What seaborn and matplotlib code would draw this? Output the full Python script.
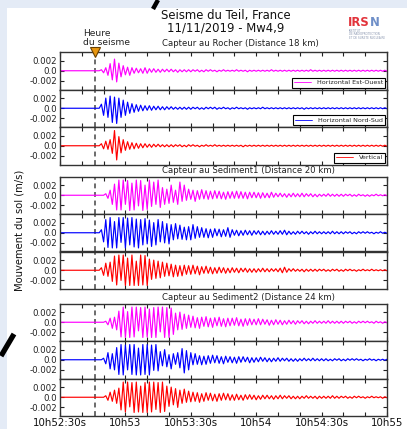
import numpy as np
import pandas as pd
import matplotlib
matplotlib.use("Agg")
import matplotlib.pyplot as plt
import seaborn as sns
from matplotlib.lines import Line2D
from matplotlib.patches import Rectangle

# ------------------------------------------------------------------ data
TITLE_1 = "Seisme du Teil, France"
TITLE_2 = "11/11/2019 - Mw4,9"
STATIONS = ["Capteur au Rocher (Distance 18 km)",
            "Capteur au Sediment1 (Distance 20 km)",
            "Capteur au Sediment2 (Distance 24 km)"]
COMPONENTS = ["Horizontal Est-Ouest", "Horizontal Nord-Sud", "Vertical"]
COLORS = ["#ff00ff", "#0000ff", "#ff0000"]
EVENT_LABEL = "Heure\ndu seisme"
Y_LABEL = "Mouvement du sol (m/s)"
EVENT_T = 16.0                      # s after 10h52:30s
X_TICKS = [0, 30, 60, 90, 120, 150]
X_TICK_LABELS = ["10h52:30s", "10h53", "10h53:30s", "10h54", "10h54:30s", "10h55"]
Y_TICKS = [-0.002, 0.0, 0.002]
Y_TICK_LABELS = ["-0.002", "0.0", "0.002"]
REC_START = 0.0                     # record start (s), ground at rest
FIRST_SAMPLE = 18.0                 # s
SAMPLE_STEP = 1.0                   # s
SCALE = 1e-4                        # m/s per unit

rocher_ew = [0,
             2,-4,6,-9,14,-18,23,-22,15,-12,
             10,-8,7,-9,6,-5,5,-4,4,-5,
             6,-5,4,-3,4,-3,3,-3,3,-2,
             3,-2,3,-2,2,-3,2,-2,2,-2,
             2,-2,2,-1,2,-2,1,-2,2,-1,
             2,-1,1,-2,1,-1,2,-1,1,-1,
             1,-1,2,-1,1,-1,1,-2,1,-1,
             1,-1,1,-1,1,-1,1,-1,2,-1,
             1,-1,1,-1,1,-1,1,-1,1,-1,
             1,-1,1,-1,1,-1,2,-1,1,-1,
             1,-1,1,-1,1,-1,1,-1,1,-1,
             1,-1,1,-1,1,-1,1,-1,1,-1,
             1,-1,1,-1,1,-1,1,-1,1,-1,
             1,-1]
rocher_ns = [0,
             8,-14,20,-18,24,-28,22,-30,20,-18,
             16,-14,12,-10,9,-8,7,-6,6,-5,
             5,-4,5,-4,4,-3,4,-3,3,-3,
             3,-2,3,-2,2,-2,2,-2,2,-2,
             2,-2,2,-1,2,-2,1,-2,2,-1,
             2,-1,2,-2,1,-1,2,-1,1,-2,
             1,-1,2,-1,1,-1,1,-2,1,-1,
             1,-1,1,-1,2,-1,1,-1,1,-1,
             1,-1,1,-1,1,-1,1,-1,1,-1,
             1,-1,1,-2,1,-1,1,-1,1,-1,
             1,-1,1,-1,1,-1,1,-1,1,-1,
             1,-1,1,-1,1,-1,1,-1,1,-1,
             1,-1,1,-1,1,-1,1,-1,1,-1,
             1,-1]
rocher_z = [0,
            4,-6,9,-7,12,-15,30,-28,18,-14,
            12,-9,8,-7,6,-6,5,-5,4,-4,
            4,-3,3,-3,3,-2,3,-2,2,-2,
            2,-2,2,-2,2,-1,2,-2,1,-2,
            2,-1,2,-1,1,-2,1,-1,2,-1,
            1,-1,2,-1,1,-1,1,-1,1,-1,
            1,-1,1,-1,1,-2,1,-1,1,-1,
            1,-1,1,-1,1,-1,1,-1,1,-1,
            1,-1,1,-1,1,-1,1,-1,1,-1,
            1,-1,1,-1,1,-1,1,-1,1,-1,
            1,-1,1,-1,1,-1,1,-1,1,-1,
            1,-1,1,-1,1,-1,1,-1,1,-1,
            1,-1,1,-1,1,-1,1,-1,1,-1,
            1,-1]
sed1_ew = [0,
           0,0,3,-6,10,-18,22,-29,30,-29,
           30,-18,29,-30,24,-29,30,-21,29,-30,
           20,-28,30,-22,26,-18,30,-24,15,-18,
           12,-16,20,-14,10,-18,26,-12,20,-10,
           12,-8,10,-12,9,-8,11,-7,9,-8,
           8,-7,9,-6,8,-7,6,-8,7,-6,
           7,-6,8,-6,7,-6,6,-7,6,-5,
           6,-5,5,-6,5,-5,4,-5,6,-4,
           4,-3,4,-3,3,-4,3,-3,4,-3,
           3,-3,4,-3,3,-2,3,-3,2,-3,
           2,-2,2,-2,3,-2,2,-2,2,-2,
           2,-2,2,-1,2,-2,1,-2,2,-1,
           1,-2,1,-2,1,-1,2,-1,1,-1,
           1,-1]
sed1_ns = [0,
           6,-18,26,-29,30,-30,22,-30,30,-19,
           30,-30,29,-24,30,-28,27,-30,26,-24,
           28,-22,25,-27,20,-24,26,-18,22,-20,
           18,-22,16,-14,18,-12,15,-13,11,-14,
           12,-14,16,-11,12,-9,10,-9,8,-10,
           7,-9,8,-6,7,-8,6,-7,10,-9,
           6,-5,5,-6,4,-5,5,-4,4,-5,
           4,-3,4,-4,3,-4,3,-3,4,-3,
           3,-3,4,-3,5,-4,3,-3,2,-3,
           3,-2,3,-2,2,-3,2,-2,3,-2,
           2,-2,2,-2,2,-2,3,-2,2,-2,
           2,-2,2,-1,2,-2,1,-2,2,-1,
           2,-1,2,-1,1,-2,1,-1,2,-1,
           1,-1]
sed1_z = [0,
          5,-10,14,-12,16,-22,28,-29,30,-20,
          30,-30,24,-30,30,-30,18,-30,30,-29,
          29,-30,22,-18,20,-16,18,-15,16,-12,
          14,-11,12,-13,10,-12,9,-11,10,-8,
          9,-8,10,-7,8,-9,7,-6,8,-6,
          6,-7,5,-6,6,-5,5,-6,4,-5,
          5,-4,4,-5,4,-3,4,-4,3,-4,
          3,-4,3,-3,4,-3,3,-3,3,-2,
          3,-3,4,-5,6,-4,3,-2,3,-2,
          2,-2,2,-3,2,-2,2,-2,2,-2,
          2,-1,2,-2,1,-2,2,-1,2,-2,
          1,-2,2,-1,2,-1,1,-2,1,-1,
          2,-1,1,-1,2,-1,1,-1,1,-1,
          1,-1]
sed2_ew = [0,
           0,0,2,-5,8,-12,10,-15,22,-29,
           30,-30,21,-30,30,-29,30,-17,29,-30,
           30,-29,26,-30,29,-30,30,-19,30,-30,
           29,-30,28,-24,18,-15,20,-14,16,-12,
           14,-10,12,-11,9,-12,10,-8,11,-9,
           8,-10,9,-7,10,-8,7,-9,8,-7,
           8,-6,9,-7,6,-8,7,-6,7,-5,
           6,-5,7,-5,6,-4,5,-6,4,-5,
           5,-4,4,-5,3,-4,4,-3,3,-4,
           3,-2,3,-3,2,-3,2,-2,3,-2,
           2,-2,2,-2,3,-2,2,-2,2,-2,
           2,-2,2,-1,2,-2,1,-2,2,-1,
           2,-1,2,-1,1,-2,2,-1,1,-2,
           1,-1]
sed2_ns = [0,
           0,3,-8,14,-18,12,-20,24,-29,30,
           -30,29,-20,30,-29,30,-30,23,-30,30,
           -29,30,-30,29,-21,30,-22,16,-12,20,
           -14,10,-18,12,-9,14,-16,22,-26,18,
           -20,14,-10,12,-9,8,-10,7,-9,8,
           -7,9,-6,8,-7,6,-8,7,-5,6,
           -6,5,-7,6,-5,6,-4,5,-6,4,
           -5,4,-4,5,-3,4,-4,3,-4,3,
           -3,4,-3,3,-2,3,-3,2,-3,2,
           -3,2,-2,3,-2,2,-2,3,-2,2,
           -2,2,-2,2,-2,1,-2,2,-1,2,
           -2,1,-2,2,-1,2,-1,2,-1,1,
           -2,1,-1,2,-1,1,-2,1,-1,1,
           -1,1]
sed2_z = [0,
          0,0,3,-6,10,-8,14,-12,18,-25,
          30,-29,30,-19,29,-30,30,-29,22,-30,
          29,-30,30,-29,30,-24,29,-30,30,-28,
          22,-18,20,-15,17,-20,14,-12,16,-10,
          12,-9,10,-8,9,-10,7,-8,9,-6,
          8,-7,6,-8,7,-6,8,-5,7,-6,
          5,-6,6,-5,4,-6,5,-4,5,-4,
          4,-5,3,-4,4,-3,4,-3,3,-4,
          3,-3,4,-3,3,-2,3,-3,2,-3,
          2,-3,2,-2,3,-2,2,-2,2,-3,
          2,-2,2,-2,2,-2,3,-2,2,-2,
          2,-1,2,-2,1,-2,2,-1,2,-1,
          1,-2,1,-1,2,-1,1,-1,1,-2,
          1,-1]

TRACES = [[rocher_ew, rocher_ns, rocher_z],
          [sed1_ew, sed1_ns, sed1_z],
          [sed2_ew, sed2_ns, sed2_z]]

# ------------------------------------------------------------------ style
sns.set_style("ticks")
plt.rcParams["font.family"] = ["DejaVu Sans"]

W, H = 407, 429
fig = plt.figure(figsize=(W / 100, H / 100), dpi=100)
fig.patch.set_facecolor("white")

# screenshot backdrop (light strips) and slashes
fig.patches.append(Rectangle((0, 0), 7 / W, 1, transform=fig.transFigure,
                             facecolor="#e4ebf6", edgecolor="none", zorder=0))
fig.patches.append(Rectangle((0, 1 - 8 / H), 1, 8 / H, transform=fig.transFigure,
                             facecolor="#e4ebf6", edgecolor="none", zorder=0))
fig.add_artist(Line2D([158 / W, 153 / W], [1, 1 - 9 / H], color="black", lw=3.2,
                      solid_capstyle="butt"))
fig.add_artist(Line2D([1 / W, 14 / W], [1 - 356 / H, 1 - 334 / H], color="black", lw=3.8,
                      solid_capstyle="butt"))

LEFT, RIGHT = 60, 387
PANEL_H = 37.5
GROUP_TOPS = [52, 176.5, 303.5]
TITLE_OFFSETS = [8, 6, 6.5]
YLIM = 0.0037

def px_axes(top):
    return fig.add_axes([LEFT / W, 1 - (top + PANEL_H) / H, (RIGHT - LEFT) / W, PANEL_H / H])

for g, top in enumerate(GROUP_TOPS):
    for c in range(3):
        ax = px_axes(top + c * PANEL_H)
        vals = np.asarray(TRACES[g][c], dtype=float) * SCALE
        t = FIRST_SAMPLE + SAMPLE_STEP * np.arange(len(vals))
        df = pd.DataFrame({"t": np.concatenate([[REC_START], t]),
                           "v": np.concatenate([[0.0], vals])})
        sns.lineplot(data=df, x="t", y="v", ax=ax, color=COLORS[c], lw=0.85,
                     sort=False, errorbar=None, label=COMPONENTS[c])
        if ax.get_legend() is not None:
            ax.get_legend().remove()
        ax.axvline(EVENT_T, color="#444444", lw=1.1, ls=(0, (3.2, 2.4)), zorder=1)
        ax.set_xlim(X_TICKS[0], X_TICKS[-1])
        ax.set_ylim(-YLIM, YLIM)
        ax.set_xticks(X_TICKS)
        ax.set_xticks(np.arange(X_TICKS[0], X_TICKS[-1] + 1, 10), minor=True)
        ax.set_yticks(Y_TICKS)
        ax.set_yticklabels(Y_TICK_LABELS)
        ax.set_xlabel("")
        ax.set_ylabel("")
        ax.tick_params(axis="both", which="both", direction="in", top=True, right=True,
                       length=3, width=0.8, color="#222222")
        ax.tick_params(axis="y", labelsize=6.2, pad=2, labelcolor="#222222")
        if g == 2 and c == 2:
            ax.set_xticklabels(X_TICK_LABELS)
            ax.tick_params(axis="x", labelsize=7.4, pad=1.5, labelcolor="#111111")
        else:
            ax.set_xticklabels([])
        for sp in ax.spines.values():
            sp.set_color("#333333")
            sp.set_linewidth(1.0)
        if g == 0:
            leg = ax.legend(loc="lower right", fontsize=4.6, frameon=True, fancybox=False,
                            edgecolor="black", framealpha=1, borderaxespad=0.3,
                            handlelength=2.6, borderpad=0.35, handletextpad=0.9)
            leg.get_frame().set_linewidth(0.8)
            for h in leg.get_lines():
                h.set_linewidth(0.6)
        if c == 0:
            ax.text((162 - LEFT) / (RIGHT - LEFT), 1.0 + TITLE_OFFSETS[g] / PANEL_H, STATIONS[g],
                    transform=ax.transAxes, ha="left", va="center", fontsize=6.1,
                    color="#222222")
            if g == 0:
                ax.plot([EVENT_T], [1.0], transform=ax.get_xaxis_transform(),
                        marker="v", ms=6.5, color="#e8960f", mec="#6a4000", mew=0.8,
                        clip_on=False, zorder=6)

fig.text(226 / W, 1 - 15 / H, TITLE_1, ha="center", va="center", fontsize=8.4, color="#111111")
fig.text(226 / W, 1 - 28 / H, TITLE_2, ha="center", va="center", fontsize=8.4, color="#111111")
fig.text(83 / W, 1 - 38 / H, EVENT_LABEL, ha="left", va="center", fontsize=6.6,
         linespacing=1.05, color="#222222")
fig.text(20 / W, 1 - 230 / H, Y_LABEL, rotation=90, ha="center", va="center",
         fontsize=7.2, color="#111111")

# IRSN logo
fig.text(348 / W, 1 - 23 / H, "IRS", ha="left", va="center", fontsize=8.4,
         fontweight="bold", color="#e2333b")
fig.text(370 / W, 1 - 23 / H, "N", ha="left", va="center", fontsize=8.4,
         fontweight="bold", color="#6f8fc8")
for k, line in enumerate(["INSTITUT", "DE RADIOPROTECTION", "ET DE SURETE NUCLEAIRE"]):
    fig.text(349 / W, 1 - (31 + 3.3 * k) / H, line, ha="left", va="center",
             fontsize=2.0, color="#8a96b0")

fig.savefig("out.png", dpi=100, facecolor=fig.get_facecolor())
